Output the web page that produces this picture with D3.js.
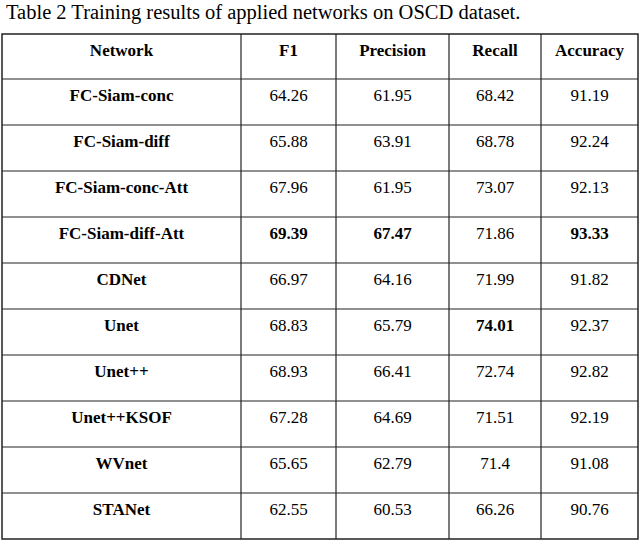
<!DOCTYPE html>
<html><head><meta charset="utf-8">
<script src="https://cdn.jsdelivr.net/npm/d3@7"></script>
<style>body{margin:0;background:#fff}</style>
</head><body>
<script>
// Table data
let columns = ["Network", "F1", "Precision", "Recall", "Accuracy"];
let networks = ["FC-Siam-conc", "FC-Siam-diff", "FC-Siam-conc-Att", "FC-Siam-diff-Att", "CDNet",
                "Unet", "Unet++", "Unet++KSOF", "WVnet", "STANet"];
let f1 = ["64.26", "65.88", "67.96", "69.39", "66.97", "68.83", "68.93", "67.28", "65.65", "62.55"];
let precision = ["61.95", "63.91", "61.95", "67.47", "64.16", "65.79", "66.41", "64.69", "62.79", "60.53"];
let recall = ["68.42", "68.78", "73.07", "71.86", "71.99", "74.01", "72.74", "71.51", "71.4", "66.26"];
let accuracy = ["91.19", "92.24", "92.13", "93.33", "91.82", "92.37", "92.82", "92.19", "91.08", "90.76"];

let w = 640, h = 543;
let colEdges = [2, 241, 336, 449, 541, 638];
let tableTop = 34, headH = 45, rowH = 46;

let svg = d3.select("body").append("svg").attr("width", w).attr("height", h);

svg.append("text").attr("x", 6).attr("y", 19)
  .style("font-family", "Liberation Serif").style("font-size", "20.5px")
  .text("Table 2  Training results of applied networks on OSCD dataset.");

let series = [f1, precision, recall, accuracy];
let maxes = series.map(s => d3.max(s, d => +d));
let rows = networks.map((n, i) => [n].concat(series.map(s => s[i])));

let y = d3.scaleLinear().domain([0, networks.length]).range([tableTop + headH, tableTop + headH + rowH * networks.length]);
let bottom = y(networks.length);

let g = svg.append("g").style("font-family", "Liberation Serif").style("font-size", "17px");

// grid
g.append("rect").attr("x", colEdges[0]).attr("y", tableTop)
  .attr("width", colEdges[5] - colEdges[0]).attr("height", bottom - tableTop)
  .attr("fill", "none").attr("stroke", "#222").attr("stroke-width", 1.5);
g.selectAll(".vl").data(colEdges.slice(1, 5)).join("line")
  .attr("x1", d => d).attr("x2", d => d).attr("y1", tableTop).attr("y2", bottom)
  .attr("stroke", "#222").attr("stroke-width", 1.2);
g.selectAll(".hl").data(d3.range(networks.length)).join("line")
  .attr("x1", colEdges[0]).attr("x2", colEdges[5]).attr("y1", d => y(d)).attr("y2", d => y(d))
  .attr("stroke", "#222").attr("stroke-width", 1.2);

let cx = i => (colEdges[i] + colEdges[i + 1]) / 2;

g.selectAll(".hd").data(columns).join("text")
  .attr("x", (d, i) => cx(i)).attr("y", tableTop + 22).attr("text-anchor", "middle")
  .attr("font-weight", "bold").text(d => d);

rows.forEach((r, ri) => {
  g.selectAll(".c" + ri).data(r).join("text")
    .attr("x", (d, i) => cx(i)).attr("y", y(ri) + 22).attr("text-anchor", "middle")
    .attr("font-weight", (d, i) => i === 0 || +d === maxes[i - 1] ? "bold" : "normal")
    .text(d => d);
});
</script>
</body></html>
